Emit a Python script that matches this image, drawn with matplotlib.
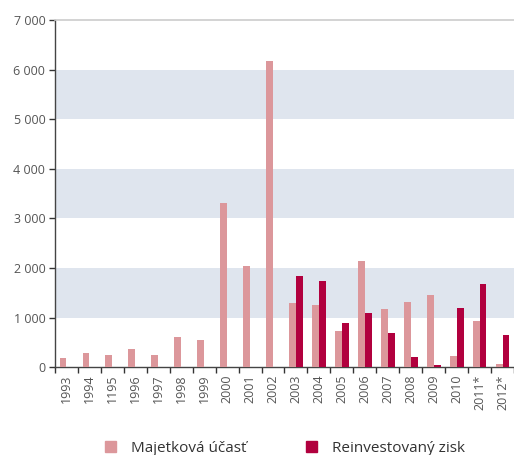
import numpy as np
import matplotlib.pyplot as plt
from matplotlib.patches import Patch
from matplotlib.ticker import FuncFormatter

plt.rcParams['font.family'] = ['Open Sans', 'DejaVu Sans']

# Data
years = ['1993', '1994', '1195', '1996', '1997', '1998', '1999', '2000', '2001', '2002',
         '2003', '2004', '2005', '2006', '2007', '2008', '2009', '2010', '2011*', '2012*']
majetkova = [180, 280, 250, 365, 250, 610, 545, 3305, 2035, 6170,
             1290, 1250, 725, 2135, 1170, 1310, 1450, 220, 925, 60]
reinvest = [0, 0, 0, 0, 0, 0, 0, 0, 0, 0,
            1835, 1735, 885, 1090, 685, 200, 40, 1190, 1675, 645]

c_light = '#dc979b'
c_dark = '#b1003e'
band = '#dfe5ee'
txt = '#555555'

fig = plt.figure(figsize=(5.14, 4.55), dpi=100)
ax = fig.add_axes([0.107, 0.193, 0.893, 0.763])

x = np.arange(len(years))
w = 0.3
ax.bar(x - w / 2, majetkova, w, color=c_light, zorder=3)
ax.bar(x + w / 2, reinvest, w, color=c_dark, zorder=3)

# alternating bands
for lo in [1000, 3000, 5000]:
    ax.axhspan(lo, lo + 1000, color=band, lw=0, zorder=1)

ax.set_xlim(-0.5, len(years) - 0.5)
ax.set_ylim(0, 7000)
ax.set_yticks(range(0, 7001, 1000))
ax.yaxis.set_major_formatter(FuncFormatter(lambda v, p: f'{int(v):,}'.replace(',', ' ')))

ax.set_xticks(x)
ax.set_xticklabels(years, rotation=90)
ax.set_xticks(np.arange(-0.5, len(years), 1), minor=True)
ax.tick_params(axis='x', which='major', length=0, pad=5, labelsize=9, labelcolor=txt)
ax.tick_params(axis='x', which='minor', length=4, width=1, color='#333333')
ax.tick_params(axis='y', length=4, width=1, color='#333333', labelsize=9, labelcolor=txt, pad=3)

for s in ['left', 'bottom']:
    ax.spines[s].set_color('#444444')
    ax.spines[s].set_linewidth(1)
ax.spines['right'].set_visible(False)
ax.spines['top'].set_color('#cccccc')
ax.spines['top'].set_linewidth(1.2)

handles = [Patch(color=c_light), Patch(color=c_dark)]
fig.legend(handles, ['Majetková účasť', 'Reinvestovaný zisk'], ncol=2,
           loc='center', bbox_to_anchor=(0.555, 0.015), frameon=False,
           fontsize=11, handlelength=0.7, handleheight=0.7, handletextpad=1.0,
           columnspacing=3.9, labelcolor='#333333')

fig.savefig('out.png', dpi=100)
